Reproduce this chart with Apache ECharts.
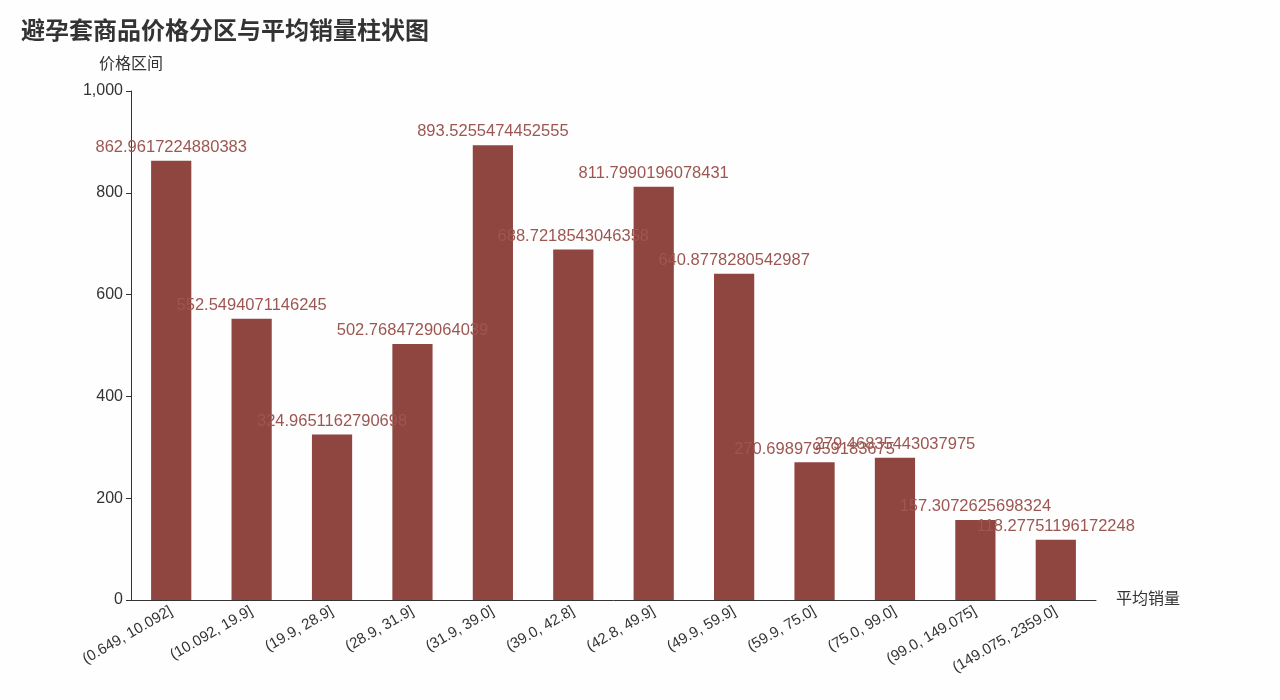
<!DOCTYPE html>
<html>
<head>
<meta charset="utf-8">
<title>避孕套商品价格分区与平均销量柱状图</title>
<script src="https://cdn.jsdelivr.net/npm/echarts@6/dist/echarts.min.js"></script>
<style>
  html, body { margin: 0; padding: 0; background: #fefefe; }
  #main { width: 1280px; height: 700px; }
</style>
</head>
<body>
<div id="main"></div>
<script>
// 价格区间
var categories = [
  '(0.649, 10.092]', '(10.092, 19.9]', '(19.9, 28.9]', '(28.9, 31.9]',
  '(31.9, 39.0]', '(39.0, 42.8]', '(42.8, 49.9]', '(49.9, 59.9]',
  '(59.9, 75.0]', '(75.0, 99.0]', '(99.0, 149.075]', '(149.075, 2359.0]'
];
// 平均销量
var avgSales = [
  862.9617224880383, 552.5494071146245, 324.9651162790698, 502.7684729064039,
  893.5255474452555, 688.7218543046358, 811.7990196078431, 640.8778280542987,
  270.69897959183675, 279.46835443037975, 157.3072625698324, 118.27751196172248
];
var yTicks = [0, 200, 400, 600, 800, 1000];

var FONT = '"Liberation Sans", "Noto Sans CJK SC", sans-serif';
var myChart = echarts.init(document.getElementById('main'));

var option = {
  backgroundColor: '#fefefe',
  animation: false,
  textStyle: { fontFamily: FONT },
  title: {
    text: '避孕套商品价格分区与平均销量柱状图',
    left: 16,
    top: 15,
    textStyle: { fontSize: 24, fontWeight: 'bold', color: '#333', fontFamily: FONT }
  },
  grid: { left: 131, right: 184, top: 91, bottom: 100 },
  xAxis: {
    type: 'category',
    data: categories,
    name: '平均销量',
    nameGap: 20,
    nameTextStyle: { fontSize: 16, color: '#333' },
    axisLine: { lineStyle: { color: '#333' } },
    axisLabel: { rotate: 30, fontSize: 15, color: '#333', interval: 0, margin: 10 }
  },
  yAxis: {
    type: 'value',
    min: yTicks[0],
    max: yTicks[yTicks.length - 1],
    interval: 200,
    name: '价格区间',
    nameGap: 18,
    nameTextStyle: { fontSize: 16, color: '#333' },
    splitLine: { show: false },
    axisLine: { show: true, lineStyle: { color: '#333' } },
    axisTick: { show: true },
    axisLabel: { fontSize: 16, color: '#333' }
  },
  series: [{
    type: 'bar',
    data: avgSales,
    barWidth: '50%',
    itemStyle: { color: '#8f4540' },
    label: {
      show: true,
      position: 'top',
      fontSize: 16.5,
      color: '#9d5651',
      fontFamily: FONT
    }
  }]
};

myChart.setOption(option);
</script>
</body>
</html>
